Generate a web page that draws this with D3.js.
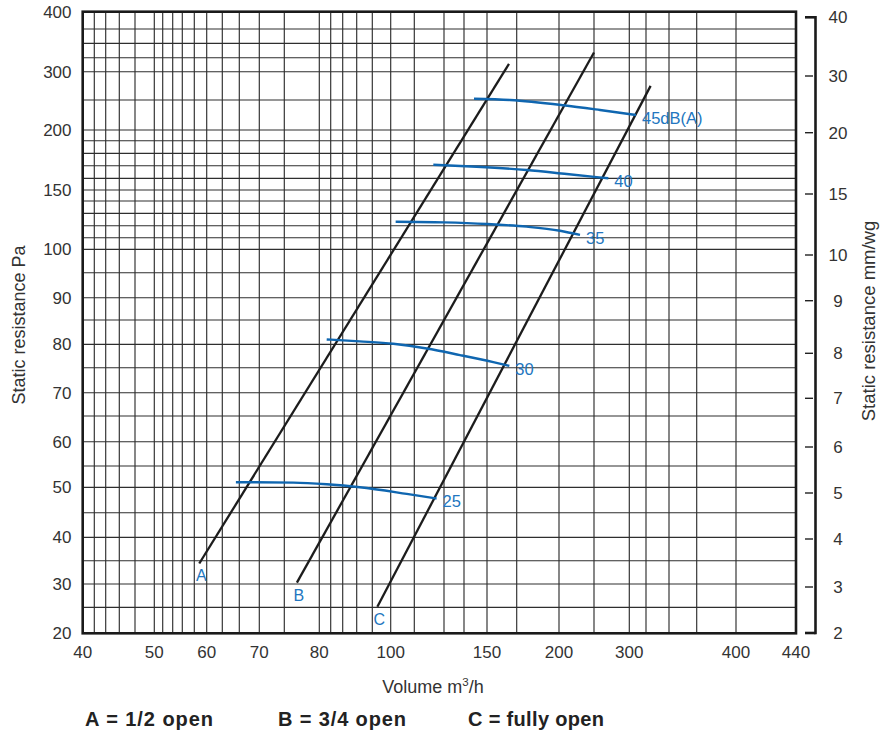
<!DOCTYPE html>
<html><head><meta charset="utf-8">
<script src="https://cdn.jsdelivr.net/npm/d3@7/dist/d3.min.js"></script>
<style>body{margin:0;background:#fff}svg{display:block}</style>
</head><body>
<svg id="chart" width="880" height="735"></svg>
<script>
// ---- data ----
const xGridValues = [40,42,44,46,48,50,52,54,56,58,60,63,66,70,75,80,84,88,92,96,100,110,120,130,150,175,200,250,300,325,350,375,400,440];
const xTickLabels = [40,50,60,70,80,100,150,200,300,400,440];
const yGridValues = [20,25,30,35,40,45,50,55,60,65,70,75,80,85,90,95,100,110,120,130,140,150,160,170,180,190,200,250,300,325,350,375,400];
const yTickLabels = [20,30,40,50,60,70,80,90,100,150,200,300,400];
const y2TickLabels = [2,3,4,5,6,7,8,9,10,15,20,30,40];

// damper lines (Volume m3/h, Pa)
const damperNames = ["A","B","C"];
const damperA = [[58.8,34.4],[168.5,314]];
const damperB = [[76.8,30.3],[250,334]];
const damperC = [[97.1,25.1],[330,275]];

// noise curves (Volume m3/h, Pa)
const noiseLabels = ["25","30","35","40","45dB(A)"];
const noise25 = [[65.4,51.2],[76.3,51.1],[82.6,50.7],[92.8,50.0],[106.8,48.7],[117.5,47.8]];
const noise30 = [[82.6,81.0],[92.8,80.6],[101.1,80.1],[114.2,79.1],[128,77.7],[155.3,76.2],[168.8,75.4]];
const noise35 = [[102.1,123.2],[119.8,122.7],[149.9,121.4],[180.9,119.2],[201.4,115.8],[230,112.3]];
const noise40 = [[116.4,170.8],[141,169.2],[180.9,166.6],[211,163.4],[270.3,160]];
const noise45 = [[138.7,252.3],[169.4,250],[206.1,241.2],[258.5,233.3],[310,225]];

const legendItems = ["A = 1/2 open","B = 3/4 open","C = fully open"];

// ---- scales (the printed grid is irregular: piecewise scales) ----
const x = d3.scaleLinear().domain(xGridValues).range(
  [82.7,94.3,105.7,119.3,135,154.3,162.7,172.7,182.3,194.3,206.7,222.3,239.3,259.3,284.3,319.3,330.7,342.7,356.7,372.3,390.7,414.3,444,464,487,516.7,559,594,629.3,646,669,696.7,736,796]);
const y = d3.scaleLinear().domain(yGridValues).range(
  [633.3,607.3,584,560.7,537.3,512.7,487.3,466,441.7,416,392.7,367.7,344.3,320,297.7,272.7,249.3,237.7,225.7,213.3,201,190,178.3,165.7,153.3,140.7,130,100,71.7,57.7,43.3,29,11.7]);
const y2 = d3.scaleLinear().domain(y2TickLabels).range(
  [633,587,539,493,447,398.3,353.3,300.7,255,194,132.7,76,17.3]);

const svg = d3.select("#chart");
const font = "'Liberation Sans', Arial, sans-serif";
const blue = "#0f66b0", blueText = "#2276c0";
const L = x(40), R = x(440), T = y(400), B = y(20);

// grid
const g = svg.append("g");
g.selectAll("line.v").data(xGridValues.slice(1,-1)).join("line")
  .attr("x1",d=>x(d)).attr("x2",d=>x(d)).attr("y1",T).attr("y2",B)
  .attr("stroke","#2e2e2e").attr("stroke-width",1.15);
g.selectAll("line.h").data(yGridValues.slice(1,-1)).join("line")
  .attr("y1",d=>y(d)).attr("y2",d=>y(d)).attr("x1",L).attr("x2",R)
  .attr("stroke","#2e2e2e").attr("stroke-width",1.15);
svg.append("rect").attr("x",L).attr("y",T).attr("width",R-L).attr("height",B-T)
  .attr("fill","none").attr("stroke","#1a1a1a").attr("stroke-width",2.6);

// left axis labels
svg.append("g").selectAll("text").data(yTickLabels).join("text")
  .attr("x",71.5).attr("y",d=>y(d)).attr("dy","0.36em").attr("text-anchor","end")
  .attr("font-family",font).attr("font-size",17).attr("fill","#333").text(d=>d);
// bottom axis labels
svg.append("g").selectAll("text").data(xTickLabels).join("text")
  .attr("x",d=>x(d)).attr("y",658).attr("text-anchor","middle")
  .attr("font-family",font).attr("font-size",17).attr("fill","#333").text(d=>d);

// right axis
const ax = 815.5;
const ra = svg.append("g");
ra.append("line").attr("x1",ax).attr("x2",ax).attr("y1",y2(40)-1.3).attr("y2",y2(2)+1.3)
  .attr("stroke","#1a1a1a").attr("stroke-width",2.6);
ra.selectAll("line.cap").data([2,40]).join("line")
  .attr("x1",805).attr("x2",ax).attr("y1",d=>y2(d)).attr("y2",d=>y2(d))
  .attr("stroke","#1a1a1a").attr("stroke-width",2.6);
ra.selectAll("line.tk").data(y2TickLabels.slice(1,-1)).join("line")
  .attr("x1",805).attr("x2",813).attr("y1",d=>y2(d)).attr("y2",d=>y2(d))
  .attr("stroke","#222").attr("stroke-width",1.4);
ra.selectAll("text").data(y2TickLabels).join("text")
  .attr("x",838).attr("y",d=>y2(d)).attr("dy","0.36em").attr("text-anchor","middle")
  .attr("font-family",font).attr("font-size",17).attr("fill","#333").text(d=>d);

// axis titles
svg.append("text").attr("transform","translate(24.5,325) rotate(-90)").attr("text-anchor","middle")
  .attr("font-family",font).attr("font-size",18).attr("fill","#333").text("Static resistance Pa");
svg.append("text").attr("transform","translate(875,321) rotate(-90)").attr("text-anchor","middle")
  .attr("font-family",font).attr("font-size",18.5).attr("fill","#333").text("Static resistance mm/wg");
const xt = svg.append("text").attr("x",433).attr("y",693).attr("text-anchor","middle")
  .attr("font-family",font).attr("font-size",18).attr("fill","#333");
xt.append("tspan").text("Volume m");
xt.append("tspan").attr("font-size",11.5).attr("dy",-7.5).text("3");
xt.append("tspan").attr("dy",7.5).text("/h");

// damper lines
const lineGen = d3.line().x(d=>x(d[0])).y(d=>y(d[1]));
const dampers = [damperA,damperB,damperC];
svg.append("g").selectAll("path").data(dampers).join("path")
  .attr("d",lineGen).attr("fill","none").attr("stroke","#1c1c1c").attr("stroke-width",2.3);
svg.append("g").selectAll("text").data(dampers).join("text")
  .attr("x",d=>x(d[0][0])+2).attr("y",d=>y(d[0][1])+18).attr("text-anchor","middle")
  .attr("font-family",font).attr("font-size",16).attr("fill",blueText)
  .text((d,i)=>damperNames[i]);

// noise curves
const curveGen = d3.line().x(d=>x(d[0])).y(d=>y(d[1])).curve(d3.curveMonotoneX);
const noise = [noise25,noise30,noise35,noise40,noise45];
svg.append("g").selectAll("path").data(noise).join("path")
  .attr("d",curveGen).attr("fill","none").attr("stroke",blue).attr("stroke-width",2.4);
svg.append("g").selectAll("text").data(noise).join("text")
  .attr("x",d=>x(d[d.length-1][0])+6).attr("y",d=>y(d[d.length-1][1])+3).attr("dy","0.36em")
  .attr("font-family",font).attr("font-size",16.5).attr("fill",blueText)
  .text((d,i)=>noiseLabels[i]);

// legend
const legendX = [85,278,468];
const legendW = [128,128,136];
svg.append("g").selectAll("text").data(legendItems).join("text")
  .attr("x",(d,i)=>legendX[i]).attr("y",726)
  .attr("textLength",(d,i)=>legendW[i]).attr("lengthAdjust","spacing")
  .attr("font-family","'Liberation Sans Narrow', 'Liberation Sans', Arial, sans-serif")
  .attr("font-weight","bold").attr("font-size",20).attr("fill","#222").text(d=>d);
</script>
</body></html>
